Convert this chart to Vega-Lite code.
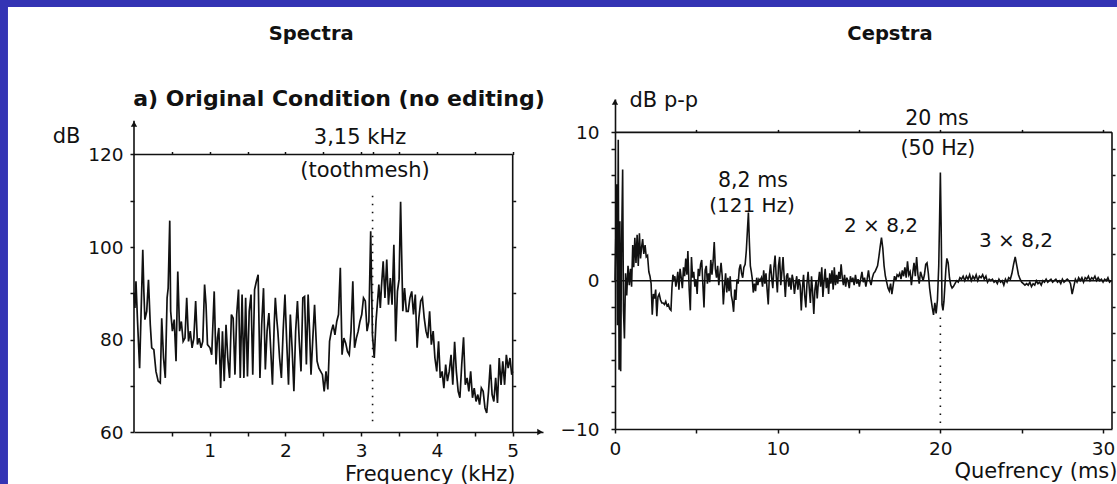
{
  "$schema": "https://vega.github.io/schema/vega-lite/v6.json",
  "background": "#3434b4",
  "padding": {"left": 7, "top": 6, "right": 0, "bottom": 0},
  "bounds": "flush",
  "spacing": 72,
  "config": {
    "view": {"stroke": null},
    "axis": {
      "grid": false,
      "labelFont": "DejaVu Sans",
      "titleFont": "DejaVu Sans",
      "labelFontSize": 18.5,
      "titleFontSize": 21,
      "titleFontWeight": "normal",
      "labelColor": "#111",
      "titleColor": "#111",
      "domainColor": "#111",
      "tickColor": "#111",
      "domainWidth": 1.6,
      "tickWidth": 1.5,
      "tickSize": 4,
      "labelOverlap": false,
      "labelFlush": false
    },
    "text": {"font": "DejaVu Sans", "color": "#111"}
  },
  "hconcat": [
    {
      "width": 409,
      "height": 333,
      "data": {"values": [{}]},
      "resolve": {"axis": {"x": "independent", "y": "independent"}},
      "layer": [
        {
          "mark": {"type": "rect", "color": "#ffffff", "clip": false},
          "encoding": {
            "x": {"datum": -1.664, "type": "quantitative", "scale": {"domain": [0, 5.4], "nice": false, "zero": false}, "axis": null},
            "x2": {"datum": 12.992},
            "y": {"datum": 151.9, "type": "quantitative", "scale": {"domain": [60, 132], "nice": false, "zero": false}, "axis": null},
            "y2": {"datum": 48.54}
          }
        },
        {
          "data": {"values": [
            {"f":0,"db":90.1},{"f":0.012,"db":86.8},{"f":0.026,"db":92.6},{"f":0.045,"db":84.6},{"f":0.074,"db":73.8},{"f":0.093,"db":85.4},{"f":0.116,"db":99.4},{"f":0.13,"db":90.4},{"f":0.144,"db":84.3},{"f":0.168,"db":86.1},{"f":0.191,"db":92.9},{"f":0.215,"db":83.2},{"f":0.234,"db":78.2},{"f":0.262,"db":77.8},{"f":0.29,"db":73.1},{"f":0.319,"db":71.0},{"f":0.347,"db":70.6},{"f":0.366,"db":84.6},{"f":0.39,"db":76.0},{"f":0.413,"db":71.7},{"f":0.437,"db":89.0},{"f":0.451,"db":91.1},{"f":0.472,"db":105.7},{"f":0.484,"db":86.1},{"f":0.507,"db":81.8},{"f":0.531,"db":84.3},{"f":0.555,"db":75.3},{"f":0.578,"db":94.7},{"f":0.602,"db":81.8},{"f":0.625,"db":83.9},{"f":0.649,"db":79.6},{"f":0.673,"db":80.3},{"f":0.696,"db":89.0},{"f":0.72,"db":79.6},{"f":0.743,"db":81.8},{"f":0.767,"db":78.2},{"f":0.79,"db":80.3},{"f":0.814,"db":88.3},{"f":0.838,"db":78.9},{"f":0.861,"db":80.3},{"f":0.885,"db":78.2},{"f":0.908,"db":79.6},{"f":0.932,"db":91.9},{"f":0.951,"db":87.5},{"f":0.97,"db":78.9},{"f":1.003,"db":78.2},{"f":1.026,"db":76.7},{"f":1.059,"db":90.4},{"f":1.083,"db":74.6},{"f":1.102,"db":80.3},{"f":1.12,"db":82.5},{"f":1.144,"db":69.5},{"f":1.168,"db":81.8},{"f":1.191,"db":71.0},{"f":1.215,"db":83.2},{"f":1.238,"db":76.0},{"f":1.262,"db":71.7},{"f":1.286,"db":85.4},{"f":1.309,"db":84.6},{"f":1.333,"db":72.4},{"f":1.356,"db":85.4},{"f":1.38,"db":90.8},{"f":1.403,"db":71.7},{"f":1.427,"db":89.7},{"f":1.451,"db":71.7},{"f":1.474,"db":89.0},{"f":1.498,"db":72.0},{"f":1.521,"db":86.1},{"f":1.545,"db":89.7},{"f":1.568,"db":72.4},{"f":1.592,"db":90.8},{"f":1.616,"db":92.6},{"f":1.639,"db":94.0},{"f":1.663,"db":71.7},{"f":1.686,"db":83.2},{"f":1.71,"db":91.1},{"f":1.734,"db":73.5},{"f":1.757,"db":81.8},{"f":1.781,"db":85.7},{"f":1.804,"db":78.2},{"f":1.828,"db":70.2},{"f":1.851,"db":83.2},{"f":1.866,"db":89.0},{"f":1.884,"db":84.6},{"f":1.899,"db":81.8},{"f":1.922,"db":76.0},{"f":1.946,"db":71.7},{"f":1.969,"db":81.8},{"f":1.993,"db":89.7},{"f":2.016,"db":79.6},{"f":2.04,"db":70.2},{"f":2.064,"db":85.4},{"f":2.087,"db":78.2},{"f":2.111,"db":68.8},{"f":2.134,"db":81.8},{"f":2.158,"db":88.3},{"f":2.182,"db":79.6},{"f":2.205,"db":73.1},{"f":2.229,"db":89.0},{"f":2.252,"db":89.3},{"f":2.276,"db":74.6},{"f":2.299,"db":89.7},{"f":2.318,"db":81.8},{"f":2.337,"db":72.4},{"f":2.361,"db":80.3},{"f":2.384,"db":87.5},{"f":2.417,"db":75.3},{"f":2.441,"db":73.8},{"f":2.464,"db":73.1},{"f":2.488,"db":72.4},{"f":2.511,"db":68.8},{"f":2.535,"db":73.1},{"f":2.559,"db":69.2},{"f":2.582,"db":79.6},{"f":2.606,"db":81.8},{"f":2.629,"db":83.2},{"f":2.653,"db":81.0},{"f":2.677,"db":83.9},{"f":2.7,"db":85.4},{"f":2.724,"db":95.5},{"f":2.747,"db":76.7},{"f":2.771,"db":80.3},{"f":2.795,"db":79.2},{"f":2.818,"db":77.4},{"f":2.842,"db":76.7},{"f":2.865,"db":81.8},{"f":2.889,"db":92.6},{"f":2.912,"db":78.2},{"f":2.936,"db":80.3},{"f":2.96,"db":81.8},{"f":2.983,"db":83.9},{"f":3.007,"db":85.4},{"f":3.03,"db":89.0},{"f":3.054,"db":88.3},{"f":3.077,"db":81.8},{"f":3.101,"db":83.9},{"f":3.125,"db":103.4},{"f":3.148,"db":81.0},{"f":3.172,"db":76.0},{"f":3.195,"db":83.9},{"f":3.219,"db":89.0},{"f":3.233,"db":91.9},{"f":3.252,"db":86.8},{"f":3.266,"db":91.1},{"f":3.29,"db":96.9},{"f":3.313,"db":89.0},{"f":3.337,"db":97.3},{"f":3.36,"db":87.5},{"f":3.384,"db":93.3},{"f":3.407,"db":87.5},{"f":3.431,"db":100.5},{"f":3.455,"db":79.6},{"f":3.478,"db":90.4},{"f":3.5,"db":93.0},{"f":3.52,"db":109.8},{"f":3.549,"db":86.1},{"f":3.572,"db":91.1},{"f":3.596,"db":86.1},{"f":3.62,"db":86.1},{"f":3.643,"db":89.0},{"f":3.667,"db":90.4},{"f":3.69,"db":85.4},{"f":3.714,"db":89.7},{"f":3.738,"db":78.2},{"f":3.761,"db":84.6},{"f":3.785,"db":88.3},{"f":3.808,"db":89.0},{"f":3.832,"db":84.6},{"f":3.855,"db":81.8},{"f":3.879,"db":80.3},{"f":3.903,"db":86.1},{"f":3.926,"db":78.9},{"f":3.95,"db":81.8},{"f":3.973,"db":76.0},{"f":3.997,"db":73.1},{"f":4.021,"db":79.6},{"f":4.044,"db":71.7},{"f":4.068,"db":73.1},{"f":4.091,"db":69.5},{"f":4.115,"db":74.6},{"f":4.138,"db":71.0},{"f":4.162,"db":73.1},{"f":4.186,"db":76.7},{"f":4.209,"db":70.2},{"f":4.233,"db":79.5},{"f":4.256,"db":73.1},{"f":4.28,"db":68.8},{"f":4.303,"db":67.4},{"f":4.327,"db":74.6},{"f":4.351,"db":80.5},{"f":4.374,"db":70.2},{"f":4.398,"db":71.7},{"f":4.421,"db":68.8},{"f":4.445,"db":73.1},{"f":4.469,"db":67.4},{"f":4.492,"db":69.5},{"f":4.516,"db":66.6},{"f":4.539,"db":68.1},{"f":4.563,"db":65.9},{"f":4.586,"db":69.5},{"f":4.61,"db":68.8},{"f":4.634,"db":65.2},{"f":4.657,"db":64.1},{"f":4.681,"db":68.8},{"f":4.704,"db":74.6},{"f":4.728,"db":68.1},{"f":4.751,"db":66.6},{"f":4.775,"db":71.7},{"f":4.799,"db":66.3},{"f":4.822,"db":76.0},{"f":4.846,"db":70.2},{"f":4.869,"db":75.3},{"f":4.893,"db":70.2},{"f":4.916,"db":76.7},{"f":4.94,"db":73.8},{"f":4.964,"db":76.0},{"f":4.987,"db":72.4},{"f":5.0,"db":73.1}
          ]},
          "mark": {"type": "line", "color": "#111", "strokeWidth": 1.7, "clip": false},
          "encoding": {
            "x": {
              "field": "f", "type": "quantitative",
              "scale": {"domain": [0, 5.4], "nice": false, "zero": false},
              "axis": {
                "zindex": 2,
                "orient": "bottom",
                "values": [0.5, 1, 1.5, 2, 2.5, 3, 3.5, 4, 4.5, 5],
                "labelExpr": "datum.value % 1 === 0 ? format(datum.value, 'd') : ''",
                "labelPadding": 5,
                "title": "Frequency (kHz)",
                "titleX": 381, "titleY": 42,
                "titleAlign": "right", "titleBaseline": "middle"
              }
            },
            "y": {
              "field": "db", "type": "quantitative",
              "scale": {"domain": [60, 132], "nice": false, "zero": false},
              "axis": {
                "zindex": 2,
                "orient": "left",
                "values": [60, 70, 80, 90, 100, 110, 120],
                "labelExpr": "datum.value % 20 === 0 ? datum.label : ''",
                "labelPadding": 7,
                "domain": false,
                "title": "dB",
                "titleAngle": 0, "titleX": -68, "titleY": 37,
                "titleAlign": "center", "titleBaseline": "middle"
              }
            }
          }
        },
        {
          "mark": {"type": "rule", "color": "#111", "strokeWidth": 1.6},
          "encoding": {
            "x": {
              "datum": 0, "type": "quantitative",
              "scale": {"domain": [0, 5.4], "nice": false, "zero": false},
              "axis": {"zindex": 2, "orient": "top", "offset": -55.5, "values": [0.5, 1, 1.5, 2, 2.5, 3, 3.15, 3.5, 4, 4.5, 5], "labels": false, "domain": false, "title": null, "tickSize": 3}
            },
            "x2": {"datum": 5},
            "y": {"datum": 120, "type": "quantitative", "scale": {"domain": [60, 132], "nice": false, "zero": false}, "axis": null}
          }
        },
        {
          "mark": {"type": "rule", "color": "#111", "strokeWidth": 1.6},
          "encoding": {
            "x": {"datum": 5, "type": "quantitative", "scale": {"domain": [0, 5.4], "nice": false, "zero": false}, "axis": null},
            "y": {
              "datum": 60, "type": "quantitative",
              "scale": {"domain": [60, 132], "nice": false, "zero": false},
              "axis": {"zindex": 2, "orient": "right", "offset": -30.3, "values": [70, 80, 90, 100, 110], "labels": false, "domain": false, "title": null, "tickSize": 3}
            },
            "y2": {"datum": 120}
          }
        },
        {
          "mark": {"type": "rule", "color": "#111", "strokeWidth": 1.6},
          "encoding": {
            "x": {"datum": 0, "type": "quantitative", "scale": {"domain": [0, 5.4], "nice": false, "zero": false}, "axis": null},
            "y": {"datum": 60, "type": "quantitative", "scale": {"domain": [60, 132], "nice": false, "zero": false}, "axis": null},
            "y2": {"datum": 127.3}
          }
        },
        {
          "mark": {"type": "point", "shape": "triangle-up", "filled": true, "size": 40, "color": "#111", "opacity": 1},
          "encoding": {
            "x": {"datum": 0, "type": "quantitative", "scale": {"domain": [0, 5.4], "nice": false, "zero": false}, "axis": null},
            "y": {"datum": 126.6, "type": "quantitative", "scale": {"domain": [60, 132], "nice": false, "zero": false}, "axis": null}
          }
        },
        {
          "mark": {"type": "point", "shape": "triangle-right", "filled": true, "size": 40, "color": "#111", "opacity": 1, "clip": false},
          "encoding": {
            "x": {"datum": 5.36, "type": "quantitative", "scale": {"domain": [0, 5.4], "nice": false, "zero": false}, "axis": null},
            "y": {"datum": 60, "type": "quantitative", "scale": {"domain": [60, 132], "nice": false, "zero": false}, "axis": null}
          }
        },
        {
          "mark": {"type": "rule", "color": "#111", "strokeWidth": 1.6, "strokeDash": [1.6, 6.4]},
          "encoding": {
            "x": {"datum": 3.15, "type": "quantitative", "scale": {"domain": [0, 5.4], "nice": false, "zero": false}, "axis": null},
            "y": {"datum": 62.3, "type": "quantitative", "scale": {"domain": [60, 132], "nice": false, "zero": false}, "axis": null},
            "y2": {"datum": 112.5}
          }
        },
        {
          "mark": {"type": "text", "text": "Spectra", "fontSize": 19.5, "fontWeight": "bold", "align": "center", "baseline": "middle", "clip": false},
          "encoding": {
            "x": {"datum": 2.34, "type": "quantitative", "scale": {"domain": [0, 5.4], "nice": false, "zero": false}, "axis": null},
            "y": {"datum": 146.05, "type": "quantitative", "scale": {"domain": [60, 132], "nice": false, "zero": false}, "axis": null}
          }
        },
        {
          "mark": {"type": "text", "text": "a) Original Condition (no editing)", "fontSize": 22, "fontWeight": "bold", "align": "center", "baseline": "middle", "clip": false},
          "encoding": {
            "x": {"datum": 2.707, "type": "quantitative", "scale": {"domain": [0, 5.4], "nice": false, "zero": false}, "axis": null},
            "y": {"datum": 132.0, "type": "quantitative", "scale": {"domain": [60, 132], "nice": false, "zero": false}, "axis": null}
          }
        },
        {
          "mark": {"type": "text", "text": "3,15 kHz", "fontSize": 21, "align": "center", "baseline": "middle"},
          "encoding": {
            "x": {"datum": 2.984, "type": "quantitative", "scale": {"domain": [0, 5.4], "nice": false, "zero": false}, "axis": null},
            "y": {"datum": 123.57, "type": "quantitative", "scale": {"domain": [60, 132], "nice": false, "zero": false}, "axis": null}
          }
        },
        {
          "mark": {"type": "text", "text": "(toothmesh)", "fontSize": 21, "align": "center", "baseline": "middle"},
          "encoding": {
            "x": {"datum": 3.05, "type": "quantitative", "scale": {"domain": [0, 5.4], "nice": false, "zero": false}, "axis": null},
            "y": {"datum": 116.43, "type": "quantitative", "scale": {"domain": [60, 132], "nice": false, "zero": false}, "axis": null}
          }
        }
      ]
    },
    {
      "width": 497,
      "height": 330,
      "data": {"values": [{}]},
      "resolve": {"axis": {"x": "independent", "y": "independent"}},
      "layer": [
        {
          "data": {"values": [
            {"q":0,"v":0},{"q":0.05,"v":3},{"q":0.1,"v":6.5},{"q":0.15,"v":-3},{"q":0.2,"v":9.5},{"q":0.25,"v":-6},{"q":0.3,"v":4},{"q":0.35,"v":-6.1},{"q":0.4,"v":2},{"q":0.47,"v":7.5},{"q":0.52,"v":-2},{"q":0.58,"v":-3.9},{"q":0.65,"v":0.5},{"q":0.72,"v":-1},{"q":0.8,"v":1.0},{"q":0.88,"v":-0.3},{"q":0.95,"v":0.8},{"q":1.02,"v":-0.4},{"q":1.09,"v":2.4},{"q":1.15,"v":0.9},{"q":1.22,"v":2.9},{"q":1.29,"v":1.2},{"q":1.36,"v":3.1},{"q":1.43,"v":1.0},{"q":1.5,"v":3.2},{"q":1.57,"v":1.5},{"q":1.64,"v":2.3},{"q":1.7,"v":2.8},{"q":1.77,"v":1.8},{"q":1.85,"v":2.4},{"q":1.92,"v":1.6},{"q":2.0,"v":1.7},{"q":2.08,"v":0.6},{"q":2.15,"v":0.3},{"q":2.22,"v":-0.2},{"q":2.29,"v":-2.3},{"q":2.36,"v":-0.9},{"q":2.43,"v":-1.2},{"q":2.5,"v":-0.6},{"q":2.57,"v":-2.4},{"q":2.64,"v":-1.1},{"q":2.72,"v":-0.9},{"q":2.8,"v":-1.3},{"q":2.88,"v":-1.5},{"q":2.96,"v":-1.5},{"q":3.04,"v":-1.6},{"q":3.12,"v":-1.4},{"q":3.2,"v":-1.7},{"q":3.28,"v":-1.6},{"q":3.36,"v":-1.9},{"q":3.44,"v":-2.0},{"q":3.5,"v":-0.5},{"q":3.56,"v":0.4},{"q":3.62,"v":0.1},{"q":3.68,"v":0.3},{"q":3.74,"v":-0.4},{"q":3.8,"v":0.0},{"q":3.86,"v":0.6},{"q":3.93,"v":-0.6},{"q":4.0,"v":0.8},{"q":4.07,"v":0.2},{"q":4.14,"v":-0.5},{"q":4.21,"v":0.9},{"q":4.28,"v":0.3},{"q":4.35,"v":1.5},{"q":4.42,"v":0.4},{"q":4.48,"v":2.0},{"q":4.56,"v":-0.6},{"q":4.63,"v":-2.0},{"q":4.7,"v":1.6},{"q":4.77,"v":0.2},{"q":4.84,"v":0.6},{"q":4.91,"v":-0.4},{"q":4.98,"v":0.1},{"q":5.05,"v":-0.9},{"q":5.12,"v":0.8},{"q":5.19,"v":0.3},{"q":5.26,"v":1.1},{"q":5.33,"v":1.4},{"q":5.4,"v":-0.2},{"q":5.47,"v":-1.8},{"q":5.54,"v":0.7},{"q":5.61,"v":1.0},{"q":5.68,"v":-0.2},{"q":5.75,"v":0.5},{"q":5.82,"v":-0.1},{"q":5.89,"v":1.4},{"q":5.96,"v":0.4},{"q":6.03,"v":1.3},{"q":6.1,"v":2.6},{"q":6.17,"v":0.8},{"q":6.24,"v":0.2},{"q":6.31,"v":1.0},{"q":6.38,"v":-0.3},{"q":6.45,"v":0.5},{"q":6.52,"v":1.2},{"q":6.59,"v":0.3},{"q":6.66,"v":-1.6},{"q":6.73,"v":-0.4},{"q":6.8,"v":0.5},{"q":6.87,"v":-0.8},{"q":6.94,"v":0.2},{"q":7.01,"v":-0.7},{"q":7.08,"v":0.3},{"q":7.15,"v":-1.0},{"q":7.22,"v":-1.4},{"q":7.29,"v":-2.1},{"q":7.36,"v":-0.6},{"q":7.43,"v":-1.3},{"q":7.5,"v":0.1},{"q":7.57,"v":-0.2},{"q":7.64,"v":0.8},{"q":7.71,"v":1.1},{"q":7.78,"v":0.5},{"q":7.85,"v":0.2},{"q":7.92,"v":0.9},{"q":8.0,"v":1.1},{"q":8.07,"v":2.0},{"q":8.14,"v":3.4},{"q":8.2,"v":4.6},{"q":8.26,"v":2.6},{"q":8.32,"v":1.0},{"q":8.38,"v":0.6},{"q":8.44,"v":0.1},{"q":8.5,"v":-0.8},{"q":8.57,"v":-0.2},{"q":8.64,"v":-0.7},{"q":8.71,"v":0.2},{"q":8.78,"v":-0.3},{"q":8.85,"v":0.1},{"q":8.92,"v":0.0},{"q":9.0,"v":0.2},{"q":9.07,"v":-0.4},{"q":9.14,"v":0.7},{"q":9.21,"v":-0.2},{"q":9.28,"v":0.5},{"q":9.35,"v":-0.6},{"q":9.42,"v":-1.6},{"q":9.49,"v":0.4},{"q":9.56,"v":1.1},{"q":9.63,"v":0.2},{"q":9.7,"v":-0.5},{"q":9.77,"v":0.9},{"q":9.84,"v":1.7},{"q":9.91,"v":0.3},{"q":9.98,"v":-0.8},{"q":10.05,"v":1.0},{"q":10.12,"v":1.6},{"q":10.19,"v":-0.3},{"q":10.26,"v":0.6},{"q":10.33,"v":1.6},{"q":10.4,"v":0.2},{"q":10.47,"v":-1.1},{"q":10.54,"v":0.3},{"q":10.61,"v":0.5},{"q":10.68,"v":-0.4},{"q":10.75,"v":0.2},{"q":10.82,"v":-0.6},{"q":10.89,"v":0.4},{"q":10.96,"v":0.0},{"q":11.03,"v":-0.9},{"q":11.1,"v":-0.2},{"q":11.17,"v":0.3},{"q":11.24,"v":-0.6},{"q":11.31,"v":0.1},{"q":11.38,"v":-0.3},{"q":11.45,"v":-2.0},{"q":11.52,"v":-0.5},{"q":11.59,"v":0.4},{"q":11.66,"v":-1.0},{"q":11.73,"v":-1.8},{"q":11.8,"v":-0.2},{"q":11.87,"v":0.6},{"q":11.94,"v":-0.5},{"q":12.01,"v":-1.5},{"q":12.08,"v":0.3},{"q":12.15,"v":-0.8},{"q":12.22,"v":-2.25},{"q":12.29,"v":-0.6},{"q":12.36,"v":0.0},{"q":12.43,"v":-1.2},{"q":12.5,"v":-0.1},{"q":12.57,"v":0.6},{"q":12.64,"v":-0.4},{"q":12.71,"v":0.9},{"q":12.78,"v":-1.1},{"q":12.85,"v":0.0},{"q":12.92,"v":0.8},{"q":12.99,"v":-0.5},{"q":13.06,"v":0.2},{"q":13.13,"v":-0.9},{"q":13.2,"v":0.5},{"q":13.27,"v":-0.2},{"q":13.34,"v":0.7},{"q":13.41,"v":-0.6},{"q":13.48,"v":0.9},{"q":13.55,"v":-0.3},{"q":13.62,"v":0.4},{"q":13.69,"v":-0.2},{"q":13.76,"v":0.6},{"q":13.83,"v":0.1},{"q":13.9,"v":1.1},{"q":13.97,"v":0.2},{"q":14.04,"v":-0.3},{"q":14.11,"v":0.4},{"q":14.18,"v":-0.4},{"q":14.25,"v":0.2},{"q":14.32,"v":0.0},{"q":14.4,"v":-0.5},{"q":14.47,"v":0.3},{"q":14.55,"v":-0.1},{"q":14.62,"v":0.2},{"q":14.7,"v":-0.3},{"q":14.78,"v":0.4},{"q":14.86,"v":-0.2},{"q":14.94,"v":0.1},{"q":15.02,"v":-0.4},{"q":15.1,"v":0.1},{"q":15.18,"v":0.6},{"q":15.26,"v":-0.1},{"q":15.34,"v":0.2},{"q":15.42,"v":-0.4},{"q":15.5,"v":0.1},{"q":15.58,"v":0.7},{"q":15.66,"v":0.0},{"q":15.74,"v":-0.3},{"q":15.82,"v":0.2},{"q":15.9,"v":0.5},{"q":15.98,"v":0.6},{"q":16.06,"v":0.8},{"q":16.14,"v":1.0},{"q":16.22,"v":1.6},{"q":16.3,"v":2.3},{"q":16.38,"v":2.9},{"q":16.46,"v":2.2},{"q":16.54,"v":1.0},{"q":16.62,"v":0.3},{"q":16.7,"v":-0.1},{"q":16.78,"v":-0.5},{"q":16.86,"v":-0.7},{"q":16.94,"v":-0.2},{"q":17.02,"v":-0.9},{"q":17.1,"v":-0.3},{"q":17.18,"v":0.3},{"q":17.26,"v":0.0},{"q":17.34,"v":0.4},{"q":17.42,"v":0.3},{"q":17.5,"v":0.5},{"q":17.58,"v":0.1},{"q":17.66,"v":0.7},{"q":17.74,"v":0.3},{"q":17.82,"v":0.9},{"q":17.9,"v":0.2},{"q":17.98,"v":1.3},{"q":18.06,"v":0.4},{"q":18.14,"v":0.6},{"q":18.22,"v":-0.3},{"q":18.3,"v":0.5},{"q":18.38,"v":1.2},{"q":18.46,"v":0.3},{"q":18.54,"v":1.6},{"q":18.62,"v":0.4},{"q":18.7,"v":-0.2},{"q":18.78,"v":0.6},{"q":18.86,"v":0.3},{"q":18.94,"v":0.0},{"q":19.02,"v":0.4},{"q":19.1,"v":1.1},{"q":19.18,"v":1.2},{"q":19.26,"v":0.5},{"q":19.34,"v":-0.5},{"q":19.42,"v":-1.2},{"q":19.5,"v":-1.8},{"q":19.58,"v":-2.3},{"q":19.66,"v":-1.5},{"q":19.74,"v":-2.2},{"q":19.82,"v":-1.3},{"q":19.9,"v":1.0},{"q":19.95,"v":4.0},{"q":20.0,"v":7.3},{"q":20.05,"v":3.5},{"q":20.1,"v":-1.6},{"q":20.16,"v":-2.0},{"q":20.22,"v":-1.4},{"q":20.28,"v":-0.3},{"q":20.34,"v":0.8},{"q":20.4,"v":1.5},{"q":20.48,"v":1.2},{"q":20.56,"v":0.2},{"q":20.64,"v":-0.3},{"q":20.72,"v":-0.5},{"q":20.8,"v":-0.4},{"q":20.9,"v":-0.2},{"q":21.0,"v":0.0},{"q":21.1,"v":-0.1},{"q":21.2,"v":0.2},{"q":21.3,"v":0.1},{"q":21.4,"v":0.3},{"q":21.5,"v":0.0},{"q":21.6,"v":0.3},{"q":21.7,"v":0.1},{"q":21.8,"v":0.4},{"q":21.9,"v":0.0},{"q":22.0,"v":0.3},{"q":22.1,"v":0.1},{"q":22.2,"v":0.4},{"q":22.3,"v":0.0},{"q":22.4,"v":0.3},{"q":22.5,"v":0.2},{"q":22.6,"v":0.4},{"q":22.7,"v":0.1},{"q":22.8,"v":0.3},{"q":22.9,"v":-0.1},{"q":23.0,"v":0.1},{"q":23.1,"v":0.0},{"q":23.2,"v":0.1},{"q":23.3,"v":-0.1},{"q":23.4,"v":0.0},{"q":23.5,"v":-0.2},{"q":23.6,"v":0.1},{"q":23.7,"v":-0.1},{"q":23.8,"v":0.0},{"q":23.9,"v":-0.3},{"q":24.0,"v":0.1},{"q":24.1,"v":-0.1},{"q":24.2,"v":0.2},{"q":24.3,"v":0.1},{"q":24.4,"v":0.5},{"q":24.5,"v":1.1},{"q":24.6,"v":1.6},{"q":24.7,"v":1.0},{"q":24.8,"v":0.4},{"q":24.9,"v":0.1},{"q":25.0,"v":-0.1},{"q":25.1,"v":-0.2},{"q":25.2,"v":-0.3},{"q":25.3,"v":-0.2},{"q":25.4,"v":-0.3},{"q":25.5,"v":-0.1},{"q":25.6,"v":-0.4},{"q":25.7,"v":-0.2},{"q":25.8,"v":-0.3},{"q":25.9,"v":0.0},{"q":26.0,"v":-0.2},{"q":26.1,"v":-0.1},{"q":26.2,"v":-0.3},{"q":26.3,"v":0.0},{"q":26.4,"v":-0.1},{"q":26.5,"v":0.1},{"q":26.6,"v":-0.1},{"q":26.7,"v":0.0},{"q":26.8,"v":0.1},{"q":26.9,"v":-0.1},{"q":27.0,"v":0.0},{"q":27.1,"v":0.1},{"q":27.2,"v":-0.1},{"q":27.3,"v":0.0},{"q":27.4,"v":-0.2},{"q":27.5,"v":0.1},{"q":27.6,"v":-0.1},{"q":27.7,"v":0.0},{"q":27.8,"v":0.1},{"q":27.9,"v":0.0},{"q":28.0,"v":-0.2},{"q":28.1,"v":-0.9},{"q":28.2,"v":-0.4},{"q":28.3,"v":0.1},{"q":28.4,"v":-0.1},{"q":28.5,"v":0.2},{"q":28.6,"v":0.0},{"q":28.7,"v":0.2},{"q":28.8,"v":-0.1},{"q":28.9,"v":0.2},{"q":29.0,"v":0.1},{"q":29.1,"v":0.3},{"q":29.2,"v":0.0},{"q":29.3,"v":0.2},{"q":29.4,"v":0.1},{"q":29.5,"v":0.3},{"q":29.6,"v":0.0},{"q":29.7,"v":0.2},{"q":29.8,"v":0.0},{"q":29.9,"v":0.1},{"q":30.0,"v":-0.1},{"q":30.1,"v":0.1},{"q":30.2,"v":0.0},{"q":30.3,"v":0.2},{"q":30.4,"v":-0.1},{"q":30.5,"v":0.0}
          ]},
          "mark": {"type": "line", "color": "#111", "strokeWidth": 1.6, "clip": false},
          "encoding": {
            "x": {
              "field": "q", "type": "quantitative",
              "scale": {"domain": [0, 30.55], "nice": false, "zero": false},
              "axis": {
                "zindex": 2,
                "orient": "bottom",
                "values": [0, 5, 10, 15, 20, 25, 30],
                "labelExpr": "datum.value % 10 === 0 ? datum.label : ''",
                "labelPadding": 6,
                "title": "Quefrency (ms)",
                "titleX": 502, "titleY": 42,
                "titleAlign": "right", "titleBaseline": "middle"
              }
            },
            "y": {
              "field": "v", "type": "quantitative",
              "scale": {"domain": [-10, 12.25], "nice": false, "zero": false},
              "axis": {
                "zindex": 2,
                "orient": "left",
                "values": [-10, -8.88, -7.1, -5.33, -3.55, -1.78, 0, 1.78, 3.55, 5.33, 7.1, 8.88, 10],
                "labelExpr": "datum.value === 0 || datum.value === 10 || datum.value === -10 ? datum.label : ''",
                "labelPadding": 12,
                "title": "dB p-p",
                "titleAngle": 0, "titleX": 14, "titleY": 1,
                "titleAlign": "left", "titleBaseline": "middle"
              }
            }
          }
        },
        {
          "mark": {"type": "rule", "color": "#111", "strokeWidth": 1.6},
          "encoding": {
            "x": {"datum": 0, "type": "quantitative", "scale": {"domain": [0, 30.55], "nice": false, "zero": false}, "axis": null},
            "x2": {"datum": 30.55},
            "y": {"datum": 0, "type": "quantitative", "scale": {"domain": [-10, 12.25], "nice": false, "zero": false}, "axis": null}
          }
        },
        {
          "mark": {"type": "rule", "color": "#111", "strokeWidth": 1.6},
          "encoding": {
            "x": {
              "datum": 0, "type": "quantitative",
              "scale": {"domain": [0, 30.55], "nice": false, "zero": false},
              "axis": {"zindex": 2, "orient": "top", "offset": -33.4, "values": [5, 10, 15, 20, 25, 30], "labels": false, "domain": false, "title": null, "tickSize": 3}
            },
            "x2": {"datum": 30.55},
            "y": {"datum": 10, "type": "quantitative", "scale": {"domain": [-10, 12.25], "nice": false, "zero": false}, "axis": null}
          }
        },
        {
          "mark": {"type": "rule", "color": "#111", "strokeWidth": 1.6},
          "encoding": {
            "x": {"datum": 30.55, "type": "quantitative", "scale": {"domain": [0, 30.55], "nice": false, "zero": false}, "axis": null},
            "y": {
              "datum": -10, "type": "quantitative",
              "scale": {"domain": [-10, 12.25], "nice": false, "zero": false},
              "axis": {"zindex": 2, "orient": "right", "values": [-8.88, -7.1, -5.33, -3.55, -1.78, 1.78, 3.55, 5.33, 7.1, 8.88], "labels": false, "domain": false, "title": null, "tickSize": 3}
            },
            "y2": {"datum": 10}
          }
        },
        {
          "mark": {"type": "point", "shape": "triangle-up", "filled": true, "size": 40, "color": "#111", "opacity": 1, "clip": false},
          "encoding": {
            "x": {"datum": 0, "type": "quantitative", "scale": {"domain": [0, 30.55], "nice": false, "zero": false}, "axis": null},
            "y": {"datum": 12.05, "type": "quantitative", "scale": {"domain": [-10, 12.25], "nice": false, "zero": false}, "axis": null}
          }
        },
        {
          "mark": {"type": "rule", "color": "#111", "strokeWidth": 1.6, "strokeDash": [1.6, 6.4]},
          "encoding": {
            "x": {"datum": 20, "type": "quantitative", "scale": {"domain": [0, 30.55], "nice": false, "zero": false}, "axis": null},
            "y": {"datum": -9.6, "type": "quantitative", "scale": {"domain": [-10, 12.25], "nice": false, "zero": false}, "axis": null},
            "y2": {"datum": -2.4}
          }
        },
        {
          "mark": {"type": "text", "text": "Cepstra", "fontSize": 19.5, "fontWeight": "bold", "align": "center", "baseline": "middle", "clip": false},
          "encoding": {
            "x": {"datum": 16.9, "type": "quantitative", "scale": {"domain": [0, 30.55], "nice": false, "zero": false}, "axis": null},
            "y": {"datum": 16.63, "type": "quantitative", "scale": {"domain": [-10, 12.25], "nice": false, "zero": false}, "axis": null}
          }
        },
        {
          "mark": {"type": "text", "text": "20 ms", "fontSize": 20.5, "align": "center", "baseline": "middle"},
          "encoding": {
            "x": {"datum": 19.79, "type": "quantitative", "scale": {"domain": [0, 30.55], "nice": false, "zero": false}, "axis": null},
            "y": {"datum": 10.9, "type": "quantitative", "scale": {"domain": [-10, 12.25], "nice": false, "zero": false}, "axis": null}
          }
        },
        {
          "mark": {"type": "text", "text": "(50 Hz)", "fontSize": 20.5, "align": "center", "baseline": "middle"},
          "encoding": {
            "x": {"datum": 19.85, "type": "quantitative", "scale": {"domain": [0, 30.55], "nice": false, "zero": false}, "axis": null},
            "y": {"datum": 8.88, "type": "quantitative", "scale": {"domain": [-10, 12.25], "nice": false, "zero": false}, "axis": null}
          }
        },
        {
          "mark": {"type": "text", "text": "8,2 ms", "fontSize": 20.5, "align": "center", "baseline": "middle"},
          "encoding": {
            "x": {"datum": 8.48, "type": "quantitative", "scale": {"domain": [0, 30.55], "nice": false, "zero": false}, "axis": null},
            "y": {"datum": 6.72, "type": "quantitative", "scale": {"domain": [-10, 12.25], "nice": false, "zero": false}, "axis": null}
          }
        },
        {
          "mark": {"type": "text", "text": "(121 Hz)", "fontSize": 20, "align": "center", "baseline": "middle"},
          "encoding": {
            "x": {"datum": 8.42, "type": "quantitative", "scale": {"domain": [0, 30.55], "nice": false, "zero": false}, "axis": null},
            "y": {"datum": 5.03, "type": "quantitative", "scale": {"domain": [-10, 12.25], "nice": false, "zero": false}, "axis": null}
          }
        },
        {
          "mark": {"type": "text", "text": "2 × 8,2", "fontSize": 20, "align": "center", "baseline": "middle"},
          "encoding": {
            "x": {"datum": 16.35, "type": "quantitative", "scale": {"domain": [0, 30.55], "nice": false, "zero": false}, "axis": null},
            "y": {"datum": 3.69, "type": "quantitative", "scale": {"domain": [-10, 12.25], "nice": false, "zero": false}, "axis": null}
          }
        },
        {
          "mark": {"type": "text", "text": "3 × 8,2", "fontSize": 20, "align": "center", "baseline": "middle"},
          "encoding": {
            "x": {"datum": 24.65, "type": "quantitative", "scale": {"domain": [0, 30.55], "nice": false, "zero": false}, "axis": null},
            "y": {"datum": 2.67, "type": "quantitative", "scale": {"domain": [-10, 12.25], "nice": false, "zero": false}, "axis": null}
          }
        }
      ]
    }
  ]
}
